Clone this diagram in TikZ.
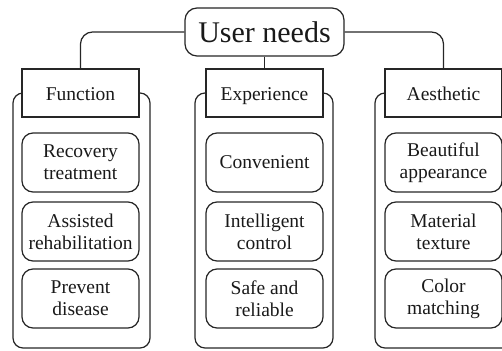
\documentclass[tikz,border=0pt]{standalone}
\usepackage{fontspec}
\setmainfont{Liberation Serif}
\begin{document}
\begin{tikzpicture}[x=1pt,y=-1pt,
  every node/.style={font=\fontsize{19.5}{22}\selectfont, text=black!90},
  ln/.style={draw=black!85, line width=1.25pt},
  outer/.style={ln, rounded corners=10pt},
  head/.style={ln, fill=white, minimum width=117pt, minimum height=48pt, inner sep=0pt, text height=17pt, text depth=3pt},
  item/.style={ln, rounded corners=11pt, minimum width=117pt, minimum height=59pt, inner sep=0pt, align=center},
  topbox/.style={ln, fill=white, rounded corners=12pt, minimum width=159pt, minimum height=48pt, inner sep=0pt, font=\fontsize{30}{32}\selectfont}
]
\useasboundingbox (0,0) rectangle (502,350);
% outer containers
\draw[outer] (13,93) rectangle (150,348);
\draw[outer] (195,93) rectangle (333,348);
\draw[outer] (375,93) rectangle (512,348);
% top node
\node[topbox] (un) at (264.5,32) {User needs};
% headers
\node[head] (fun) at (80.5,93) {Function};
\node[head] (exp) at (264.5,93) {Experience};
\node[head] (aes) at (443.5,93) {Aesthetic};
% connectors
\draw[ln, rounded corners=12pt] (un.west) -| (fun.north);
\draw[ln, rounded corners=12pt] (un.east) -| (aes.north);
\draw[ln] (un.south) -- (exp.north);
% items
\node[item] (f1) at (80.5,162.5) {Recovery\\treatment};
\node[item] (f2) at (80.5,231.5) {Assisted\\rehabilitation};
\node[item] (f3) at (80.5,298.5) {Prevent\\disease};
\node[item] (e1) at (264.5,162.5) {Convenient};
\node[item] (e2) at (264.5,231.5) {Intelligent\\control};
\node[item] (e3) at (264.5,298.5) {Safe and\\reliable};
\node[item] (a1) at (443.5,162.5) {Beautiful\\appearance};
\node[item] (a2) at (443.5,231.5) {Material\\texture};
\node[item] (a3) at (443.5,298.5) {Color\\matching};
\end{tikzpicture}
\end{document}
